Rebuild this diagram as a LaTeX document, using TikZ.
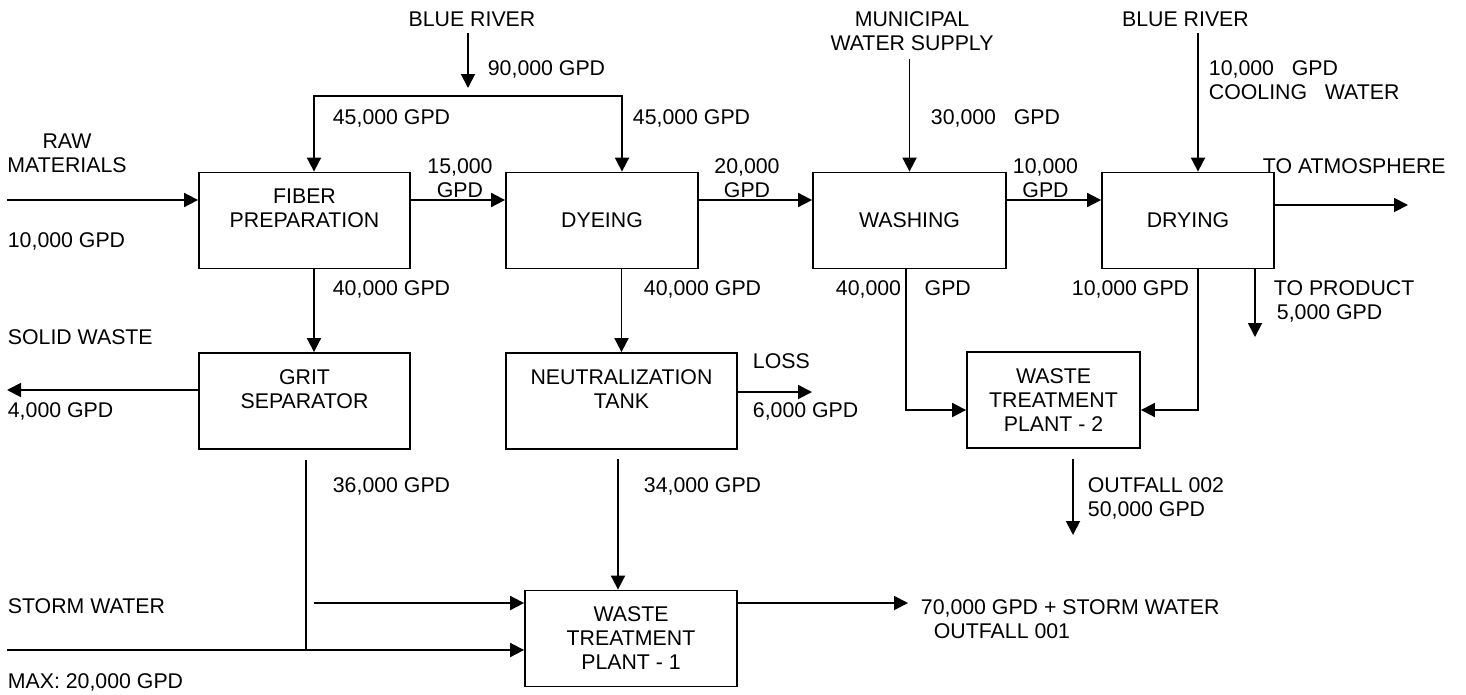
\documentclass[tikz,border=0pt]{standalone}
\usepackage{fontspec}
\setmainfont{Liberation Sans}
\usetikzlibrary{arrows.meta}
\newcommand{\flowfont}{\fontsize{21.3}{24}\selectfont}

\begin{document}
\begin{tikzpicture}[
     x = 1pt, y = -1pt,
     line width = 1.8pt,
     every node/.style = {font = \flowfont, inner sep = 0pt},
     unit/.style = {draw, align = center, minimum height = 96pt},
     lbl/.style = {anchor = base west},
     clbl/.style = {anchor = base},
     mlbl/.style = {anchor = north, align = center},
     llbl/.style = {anchor = north west, align = left},
     flow/.style = {-{Triangle[length = 14pt, width = 14pt]}},
     feed/.style = {{Triangle[length = 14pt, width = 14pt]}-{Triangle[length = 14pt, width = 14pt]}}
     ]
     \useasboundingbox (0,0) rectangle (1466,694);

       % process units
       \node[unit, minimum width = 211pt] (fiber) at (304.5,220.5) {FIBER\\PREPARATION\\\mbox{}}; % 0
       \node[unit, minimum width = 192pt] (dyeing) at (602,220.5) {DYEING}; % 1
       \node[unit, minimum width = 193pt] (washing) at (909.5,220.5) {WASHING}; % 2
       \node[unit, minimum width = 172pt] (drying) at (1188,220.5) {DRYING}; % 3
       \node[unit, minimum width = 211pt] (grit) at (304.5,401) {GRIT\\SEPARATOR\\\mbox{}}; % 4
       \node[unit, minimum width = 231pt] (neutral) at (621.5,401) {NEUTRALIZATION\\TANK\\\mbox{}}; % 5
       \node[unit, minimum width = 173pt] (wtp2) at (1053.5,400) {WASTE\\TREATMENT\\PLANT - 2}; % 6
       \node[unit, minimum width = 212pt] (wtp1) at (631,638.5) {WASTE\\TREATMENT\\PLANT - 1}; % 7

       % sources and flows
       \node[clbl] (river1) at (472,26) {BLUE RIVER};
       \node[lbl] (q90) at (487,75) {90,000 GPD};
       \node[lbl] (q45a) at (332,124) {45,000 GPD};
       \node[lbl] (q45b) at (632,124) {45,000 GPD};
       \node[mlbl] (raw) at (67,132.7) {RAW\\MATERIALS};
       \node[lbl] (q10raw) at (7,247) {10,000 GPD};
       \node[mlbl] (q15) at (460,158) {15,000\\GPD};
       \node[mlbl] (q20) at (747,158) {20,000\\GPD};
       \node[mlbl] (muni) at (912,10.7) {MUNICIPAL\\WATER SUPPLY};
       \node[lbl] (q30) at (930,124) {30,000~~~GPD};
       \node[mlbl] (q10w) at (1045.5,158) {10,000\\GPD};
       \node[clbl] (river2) at (1185.5,26) {BLUE RIVER};
       \node[llbl] (cool) at (1208,59.7) {10,000~~~GPD\\COOLING~~~WATER};
       \node[lbl] (atmos) at (1262,173) {TO ATMOSPHERE};
       \node[lbl] (q40f) at (332,295) {40,000 GPD};
       \node[lbl] (q40d) at (643,295) {40,000 GPD};
       \node[lbl] (q40w) at (835,295) {40,000~~~~GPD};
       \node[lbl] (q10d) at (1071,295) {10,000 GPD};
       \node[llbl] (product) at (1273,279.7) {TO PRODUCT\\\hspace{3pt}5,000 GPD};
       \node[lbl] (solidw) at (7,344) {SOLID WASTE};
       \node[lbl] (q4) at (7,417) {4,000 GPD};
       \node[lbl] (lossw) at (752,368) {LOSS};
       \node[lbl] (q6) at (752,417) {6,000 GPD};
       \node[lbl] (q36) at (332,492) {36,000 GPD};
       \node[lbl] (q34) at (643,492) {34,000 GPD};
       \node[llbl] (outf2) at (1087,476.7) {OUTFALL 002\\50,000 GPD};
       \node[lbl] (stormw) at (7,613) {STORM WATER};
       \node[lbl] (maxw) at (7,688) {MAX: 20,000 GPD};
       \node[llbl] (outf1) at (920,598.7) {70,000 GPD + STORM WATER\\\hspace{13pt}OUTFALL 001};

       % free ends and junctions
       \coordinate (split) at (468,88);
       \coordinate (feedF) at (314,96);
       \coordinate (feedD) at (622,96);
       \coordinate (rawin) at (7,200);
       \coordinate (atmo) at (1408,205);
       \coordinate (dryT) at ([xshift=10pt]drying.north);
       \coordinate (prod) at (1255,337);
       \coordinate (solid) at (7,390);
       \coordinate (loss) at (812,392);
       \coordinate (gj) at (306,650);
       \coordinate (stormA) at (314,603);
       \coordinate (stormB) at (7,650);
       \coordinate (nt) at (618,459);
       \coordinate (out1) at (908,603);
       \coordinate (out2) at (1073,535);

       \draw[flow] ([yshift=-6pt]river1.south -| split) -- (split);
       \draw[feed] (feedF |- fiber.north) -- (feedF) -- (feedD) -- (feedD |- dyeing.north);
       \draw[flow] (rawin) -- (rawin -| fiber.west);
       \draw[flow] (rawin -| fiber.east) -- (rawin -| dyeing.west);
       \draw[flow] (rawin -| dyeing.east) -- (rawin -| washing.west);
       \draw[flow] (rawin -| washing.east) -- (rawin -| drying.west);
       \draw[flow] (atmo -| drying.east) -- (atmo);
       \draw[flow] ([yshift=-7pt]muni.south -| washing.north) -- (washing.north);
       \draw[flow] ([yshift=-6pt]river2.south -| dryT) -- (dryT);
       \draw[flow] (feedF |- fiber.south) -- (feedF |- grit.north);
       \draw[flow] (neutral.north |- dyeing.south) -- (neutral.north);
       \draw[flow] ([xshift=-3.5pt]washing.south) |- ([yshift=-10pt]wtp2.west);
       \draw[flow] ([xshift=10pt]drying.south) |- ([yshift=-10pt]wtp2.east);
       \draw[flow] (prod |- drying.south) -- (prod);
       \draw[flow] (solid -| grit.west) -- (solid);
       \draw[flow] (loss -| neutral.east) -- (loss);
       \draw ([yshift=-10pt]gj |- grit.south) -- (gj);
       \draw[flow] (stormA) -- (stormA -| wtp1.west);
       \draw[flow] (stormB) -- (stormB -| wtp1.west);
       \draw[flow] (nt) -- (nt |- wtp1.north);
       \draw[flow] (out1 -| wtp1.east) -- (out1);
       \draw[flow] ([yshift=-10pt]out2 |- wtp2.south) -- (out2);

      \end{tikzpicture}
\end{document}
